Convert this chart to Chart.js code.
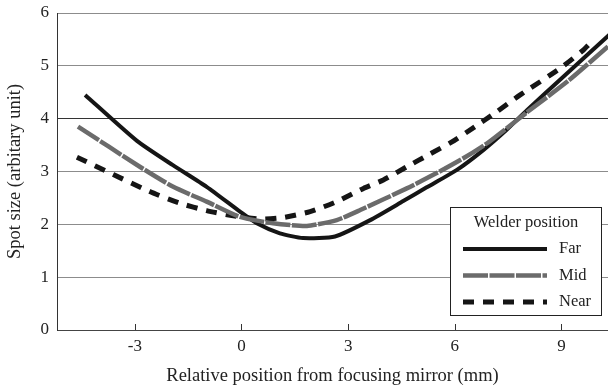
<!DOCTYPE html>
<html>
<head>
<meta charset="utf-8">
<script src="https://cdn.jsdelivr.net/npm/chart.js@4"></script>
<style>
  html, body { margin: 0; padding: 0; background: #fff; }
  #wrap { width: 608px; height: 387px; }
</style>
</head>
<body>
<div id="wrap"><canvas id="spotChart" width="608" height="387"></canvas></div>
<script>
// values
const xTicks = [-3, 0, 3, 6, 9];
const seriesNames = ['Far', 'Mid', 'Near'];
const legendTitle = 'Welder position';

const farX = [-4.4, -2.94, -1.93, -0.98, -0.04, 0.43, 1.08, 1.73, 2.63, 3.62, 4.55, 5.21, 6.06, 6.81, 7.46, 8.03, 9.0, 10.4];
const farY = [4.45, 3.58, 3.12, 2.71, 2.24, 2.02, 1.83, 1.74, 1.77, 2.08, 2.44, 2.70, 3.03, 3.41, 3.79, 4.16, 4.76, 5.62];

const midX = [-4.6, -2.86, -1.92, -0.98, -0.04, 0.89, 1.84, 2.68, 3.34, 4.65, 5.49, 6.24, 6.9, 7.46, 8.03, 9.2, 10.4];
const midY = [3.85, 3.09, 2.71, 2.43, 2.14, 2.02, 1.97, 2.08, 2.27, 2.68, 2.97, 3.25, 3.53, 3.82, 4.12, 4.72, 5.42];

const nearX = [-4.63, -2.58, -1.73, -0.98, -0.23, 0.52, 1.18, 1.93, 2.68, 3.43, 3.99, 4.65, 5.3, 5.92, 6.57, 7.18, 7.84, 8.96, 9.62, 9.75];
const nearY = [3.27, 2.62, 2.4, 2.26, 2.16, 2.1, 2.13, 2.24, 2.43, 2.68, 2.84, 3.09, 3.33, 3.56, 3.85, 4.13, 4.45, 4.95, 5.3, 5.39];

function toPoints(xs, ys) {
    return xs.map((x, i) => ({ x: x, y: ys[i] }));
}

Chart.defaults.font.family = '"Liberation Serif", "Times New Roman", serif';
Chart.defaults.color = '#222';

// small tick marks pointing up into the plot from the x axis
const insideTicks = {
    id: 'insideTicks',
    beforeDatasetsDraw(chart) {
        const { ctx, chartArea, scales } = chart;
        ctx.save();
        ctx.strokeStyle = '#333';
        ctx.lineWidth = 1;
        xTicks.forEach(v => {
            const px = Math.round(scales.x.getPixelForValue(v)) + 0.5;
            ctx.beginPath();
            ctx.moveTo(px, chartArea.bottom);
            ctx.lineTo(px, chartArea.bottom - 6);
            ctx.stroke();
        });
        ctx.restore();
    }
};

// boxed legend in the lower right of the plot
const boxLegend = {
    id: 'boxLegend',
    afterDatasetsDraw(chart) {
        const { ctx, chartArea } = chart;
        const w = 152, h = 109;
        const x0 = chartArea.right - 6 - w;
        const y0 = chartArea.bottom - 14 - h;
        ctx.save();
        ctx.fillStyle = '#fff';
        ctx.fillRect(x0, y0, w, h);
        ctx.strokeStyle = '#222';
        ctx.lineWidth = 1;
        ctx.strokeRect(x0 + 0.5, y0 + 0.5, w - 1, h - 1);
        ctx.font = '16.5px "Liberation Serif"';
        ctx.fillStyle = '#222';
        ctx.textAlign = 'center';
        ctx.textBaseline = 'middle';
        ctx.fillText(legendTitle, x0 + w / 2, y0 + 16);
        chart.data.datasets.forEach((ds, i) => {
            const y = y0 + 42 + i * 26.5;
            ctx.beginPath();
            ctx.setLineDash(ds.borderDash || []);
            ctx.strokeStyle = ds.borderColor;
            ctx.lineWidth = ds.borderWidth;
            ctx.moveTo(x0 + 13, y);
            ctx.lineTo(x0 + 97, y);
            ctx.stroke();
            ctx.setLineDash([]);
            ctx.textAlign = 'left';
            ctx.fillText(ds.label, x0 + 109, y);
        });
        ctx.restore();
    }
};

const ctx = document.getElementById('spotChart').getContext('2d');
const spotChart = new Chart(ctx, {
    type: 'line',
    data: {
        datasets: [{
            label: seriesNames[0],
            data: toPoints(farX, farY),
            borderColor: '#151515',
            borderWidth: 4,
            order: 2
        }, {
            label: seriesNames[1],
            data: toPoints(midX, midY),
            borderColor: '#6b6b6b',
            borderWidth: 4.5,
            borderDash: [25, 1.5],
            order: 0
        }, {
            label: seriesNames[2],
            data: toPoints(nearX, nearY),
            borderColor: '#151515',
            borderWidth: 5,
            borderDash: [11, 9],
            order: 1
        }]
    },
    options: {
        responsive: false,
        animation: false,
        devicePixelRatio: 1,
        elements: {
            point: { radius: 0 },
            line: { tension: 0.2, fill: false, borderCapStyle: 'butt' }
        },
        layout: { padding: { top: 13, right: 0, left: 0, bottom: 0 } },
        plugins: {
            legend: { display: false },
            tooltip: { enabled: false }
        },
        scales: {
            x: {
                type: 'linear',
                min: -5.19,
                max: 10.31,
                afterBuildTicks: scale => {
                    scale.ticks = xTicks.map(v => ({ value: v }));
                },
                afterFit: scale => { scale.height = 57; },
                grid: { display: false, drawTicks: false },
                border: { display: true, color: '#444', width: 1 },
                ticks: { padding: 6, font: { size: 17 }, color: '#222' },
                title: {
                    display: true,
                    text: 'Relative position from focusing mirror (mm)',
                    font: { size: 18.5 },
                    color: '#222',
                    padding: { top: 0, bottom: 0 }
                }
            },
            y: {
                min: 0,
                max: 6,
                afterFit: scale => {
                    scale.width = 57;
                    scale.paddingTop = 8;
                    scale.paddingBottom = 8;
                },
                ticks: { stepSize: 1, padding: 8, font: { size: 17 }, color: '#222' },
                grid: {
                    drawTicks: false,
                    color: c => (c.tick && c.tick.value === 4) ? '#333' : '#8c8c8c',
                    lineWidth: 1
                },
                border: { display: true, color: '#333', width: 1 },
                title: {
                    display: true,
                    text: 'Spot size (arbitary unit)',
                    font: { size: 18.5 },
                    color: '#222',
                    padding: { top: 4, bottom: 0 }
                }
            }
        }
    },
    plugins: [insideTicks, boxLegend]
});
</script>
</body>
</html>
